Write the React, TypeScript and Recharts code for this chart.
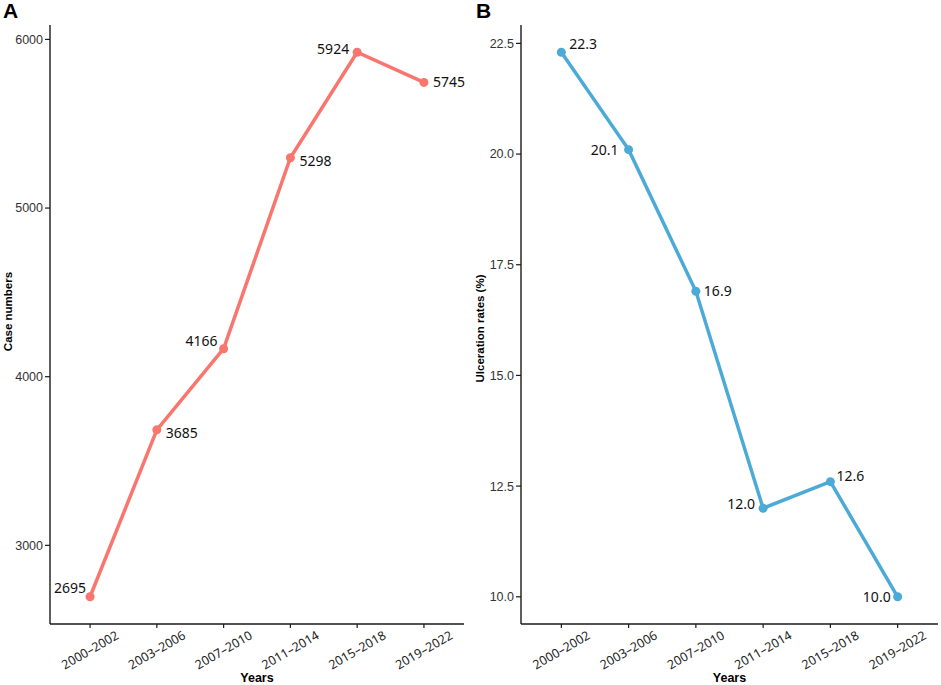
import React from "react";
import { LineChart, Line, XAxis, YAxis, LabelList, Label } from "recharts";

const periods = ["2000–2002", "2003–2006", "2007–2010", "2011–2014", "2015–2018", "2019–2022"];
const caseNumbers = [2695, 3685, 4166, 5298, 5924, 5745];
const ulcerationRates = [22.3, 20.1, 16.9, 12.0, 12.6, 10.0];
const caseTicks = [3000, 4000, 5000, 6000];
const rateTicks = [10, 12.5, 15, 17.5, 20, 22.5];

const RED = "#F8766D";
const BLUE = "#4BAAD6";
const AXIS = "#1a1a1a";
const LABEL_FONT = "'Noto Sans', 'Open Sans', sans-serif";
const TICK_FONT = "'Liberation Sans', Arial, sans-serif";

// where each point label sits relative to its point (like ggrepel did)
const caseLabelPos = [
  { dx: -4, dy: -9 },
  { dx: 9, dy: 3 },
  { dx: -6, dy: -8 },
  { dx: 9, dy: 3 },
  { dx: -8, dy: -3 },
  { dx: 9, dy: 0 },
];
const rateLabelPos = [
  { dx: 8, dy: -8 },
  { dx: -10, dy: 0 },
  { dx: 8, dy: 0 },
  { dx: -8, dy: -4 },
  { dx: 6, dy: -6 },
  { dx: -7, dy: 0 },
];

// ggplot-style 5% expansion of the data range
const expand = (vals: number[]): [number, number] => {
  const lo = Math.min(...vals);
  const hi = Math.max(...vals);
  const pad = (hi - lo) * 0.05;
  return [lo - pad, hi + pad];
};

const PeriodTick = (props: any) => {
  const { x, y, payload } = props;
  return (
    <g transform={`translate(${x},${y + 20})`}>
      <text
        textAnchor="middle"
        dy="0.35em"
        transform="rotate(-30)"
        fontFamily={LABEL_FONT}
        fontSize={12.5}
        fill="#222"
      >
        {periods[payload.value]}
      </text>
    </g>
  );
};

const makePointLabel = (pos: { dx: number; dy: number }[], fmt: (v: number) => string) =>
  (props: any) => {
    const { x, y, value, index } = props;
    const p = pos[index];
    return (
      <text
        x={x + p.dx}
        y={y + p.dy}
        dy="0.36em"
        textAnchor={p.dx < 0 ? "end" : "start"}
        fontFamily={LABEL_FONT}
        fontSize={14}
        fill="#111"
      >
        {fmt(value)}
      </text>
    );
  };

interface PanelProps {
  values: number[];
  ticks: number[];
  color: string;
  yTitle: string;
  yTitleX: number;
  yTitleShift: number;
  width: number;
  yAxisWidth: number;
  rightMargin: number;
  tickFmt: (v: number) => string;
  labelPos: { dx: number; dy: number }[];
  labelFmt: (v: number) => string;
}

function Panel({
  values, ticks, color, yTitle, yTitleX, yTitleShift, width, yAxisWidth, rightMargin, tickFmt, labelPos, labelFmt,
}: PanelProps) {
  const data = values.map((v, i) => ({ i, v }));
  return (
    <LineChart width={width} height={685} data={data} margin={{ top: 25, right: rightMargin, left: 0, bottom: 0 }}>
      <XAxis
        dataKey="i"
        type="number"
        domain={[-0.6, 5.6]}
        ticks={[0, 1, 2, 3, 4, 5]}
        allowDataOverflow
        height={61}
        tick={<PeriodTick />}
        tickSize={4}
        tickLine={{ stroke: AXIS, strokeWidth: 1.2 }}
        axisLine={{ stroke: AXIS, strokeWidth: 1.4 }}
      >
        <Label
          content={({ viewBox }: any) => (
            <text
              x={viewBox.x + viewBox.width / 2}
              y={viewBox.y + viewBox.height - 3}
              textAnchor="middle"
              fontFamily={TICK_FONT}
              fontWeight="bold"
              fontSize={12.5}
              fill="#000"
            >
              Years
            </text>
          )}
        />
      </XAxis>
      <YAxis
        type="number"
        domain={expand(values)}
        ticks={ticks}
        allowDataOverflow
        width={yAxisWidth}
        tickFormatter={tickFmt}
        tickSize={5}
        tickMargin={2}
        tick={{ fontFamily: TICK_FONT, fontSize: 12.5, fill: "#333" }}
        tickLine={{ stroke: AXIS, strokeWidth: 1.2 }}
        axisLine={{ stroke: AXIS, strokeWidth: 1.4 }}
      >
        <Label
          content={({ viewBox }: any) => {
            const cx = yTitleX;
            const cy = viewBox.y + viewBox.height / 2 + yTitleShift;
            return (
              <text
                x={cx}
                y={cy}
                transform={`rotate(-90, ${cx}, ${cy})`}
                textAnchor="middle"
                dy="0.35em"
                fontFamily={TICK_FONT}
                fontWeight="bold"
                fontSize={11.5}
                fill="#000"
              >
                {yTitle}
              </text>
            );
          }}
        />
      </YAxis>
      <Line
        type="linear"
        dataKey="v"
        stroke={color}
        strokeWidth={3.5}
        dot={{ r: 4.5, fill: color, stroke: "none" }}
        activeDot={false}
        isAnimationActive={false}
      >
        <LabelList dataKey="v" content={makePointLabel(labelPos, labelFmt)} />
      </Line>
    </LineChart>
  );
}

const letterStyle: React.CSSProperties = {
  position: "absolute",
  top: 0,
  fontFamily: TICK_FONT,
  fontWeight: "bold",
  fontSize: 21,
  lineHeight: "22px",
};

export default function App() {
  return (
    <div style={{ position: "absolute", left: 0, top: 0, width: 941, height: 685, background: "#fff" }}>
      <div style={{ position: "absolute", left: 0, top: 0 }}>
        <Panel
          values={caseNumbers}
          ticks={caseTicks}
          color={RED}
          yTitle="Case numbers"
          yTitleX={8}
          yTitleShift={-13}
          width={470}
          yAxisWidth={50}
          rightMargin={6}
          tickFmt={(v) => String(v)}
          labelPos={caseLabelPos}
          labelFmt={(v) => String(v)}
        />
      </div>
      <div style={{ position: "absolute", left: 470, top: 0 }}>
        <Panel
          values={ulcerationRates}
          ticks={rateTicks}
          color={BLUE}
          yTitle="Ulceration rates (%)"
          yTitleX={10}
          yTitleShift={4}
          width={471}
          yAxisWidth={51}
          rightMargin={3}
          tickFmt={(v) => v.toFixed(1)}
          labelPos={rateLabelPos}
          labelFmt={(v) => v.toFixed(1)}
        />
      </div>
      <div style={{ ...letterStyle, left: 3 }}>A</div>
      <div style={{ ...letterStyle, left: 476 }}>B</div>
    </div>
  );
}
